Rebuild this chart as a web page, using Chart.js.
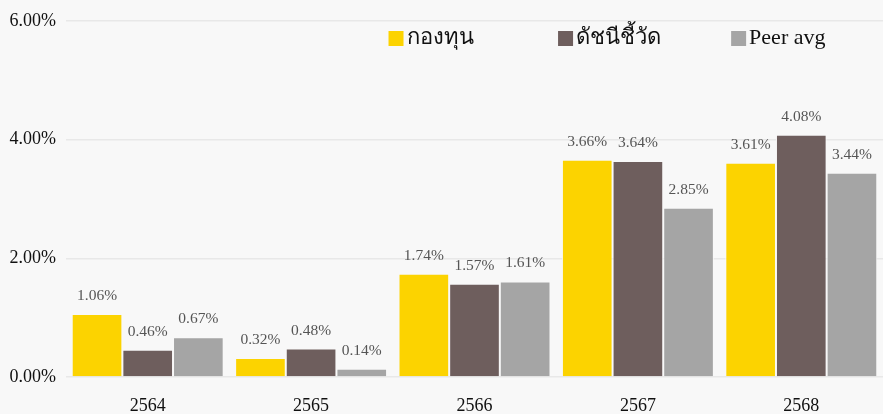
<!DOCTYPE html>
<html>
<head>
<meta charset="utf-8">
<script src="https://cdn.jsdelivr.net/npm/chart.js@4"></script>
<style>
  html, body { margin: 0; padding: 0; background: #f8f8f8; }
  #wrap { width: 883px; height: 414px; }
</style>
</head>
<body>
<div id="wrap"><canvas id="grafico"></canvas></div>
<script>
const anos = ["2564", "2565", "2566", "2567", "2568"];
const fundo = [1.06, 0.32, 1.74, 3.66, 3.61];
const indice = [0.46, 0.48, 1.57, 3.64, 4.08];
const peerAvg = [0.67, 0.14, 1.61, 2.85, 3.44];
const yTicks = [0, 2, 4, 6];

const FONTE = "'Liberation Serif', 'Times New Roman', serif";

// rótulos acima das barras
const rotulosPlugin = {
    id: "rotulos",
    afterDatasetsDraw(chart) {
        const ctx = chart.ctx;
        ctx.save();
        ctx.font = "15.5px " + FONTE;
        ctx.fillStyle = "#555";
        ctx.textAlign = "center";
        ctx.textBaseline = "middle";
        chart.data.datasets.forEach((ds, i) => {
            chart.getDatasetMeta(i).data.forEach((bar, j) => {
                ctx.fillText(ds.data[j].toFixed(2) + "%", bar.x, bar.y - 18);
            });
        });
        ctx.restore();
    }
};

// legenda desenhada dentro da área do gráfico
const legendaPlugin = {
    id: "legendaCustom",
    afterDraw(chart) {
        const ctx = chart.ctx;
        const pos = [0.44, 0.632, 0.828];
        ctx.save();
        ctx.font = "22px " + FONTE;
        ctx.textBaseline = "middle";
        chart.data.datasets.forEach((ds, i) => {
            const x = chart.width * pos[i];
            const y = 38;
            ctx.fillStyle = ds.backgroundColor;
            ctx.fillRect(x, y - 7, 15, 15);
            ctx.fillStyle = "#111";
            ctx.fillText(ds.label, x + 18, y);
        });
        ctx.restore();
    }
};

const ctx = document.getElementById("grafico").getContext("2d");
new Chart(ctx, {
    type: "bar",
    data: {
        labels: anos,
        datasets: [
            { label: "กองทุน", data: fundo, backgroundColor: "#FCD300" },
            { label: "ดัชนีชี้วัด", data: indice, backgroundColor: "#6E5E5D" },
            { label: "Peer avg", data: peerAvg, backgroundColor: "#A5A5A5" }
        ].map(d => Object.assign(d, {
            borderColor: "#f8f8f8",
            borderWidth: 1,
            categoryPercentage: 0.93,
            barPercentage: 1.0
        }))
    },
    options: {
        responsive: true,
        maintainAspectRatio: false,
        animation: false,
        layout: { padding: { top: 6, right: 0, left: 0, bottom: 0 } },
        plugins: {
            legend: { display: false },
            tooltip: { enabled: false }
        },
        scales: {
            x: {
                grid: { display: false },
                border: { display: false },
                afterFit: axis => { axis.height = 37; },
                ticks: {
                    color: "#111",
                    font: { family: FONTE, size: 18 },
                    padding: 10
                }
            },
            y: {
                min: 0,
                max: 6,
                afterBuildTicks: axis => { axis.ticks = yTicks.map(v => ({ value: v })); },
                afterFit: axis => { axis.width = 66; },
                grid: { color: "#e8e8e8", lineWidth: 1.5, drawTicks: false },
                border: { display: false },
                ticks: {
                    color: "#111",
                    font: { family: FONTE, size: 18 },
                    padding: 10,
                    callback: v => v.toFixed(2) + "%"
                }
            }
        }
    },
    plugins: [rotulosPlugin, legendaPlugin]
});
</script>
</body>
</html>
